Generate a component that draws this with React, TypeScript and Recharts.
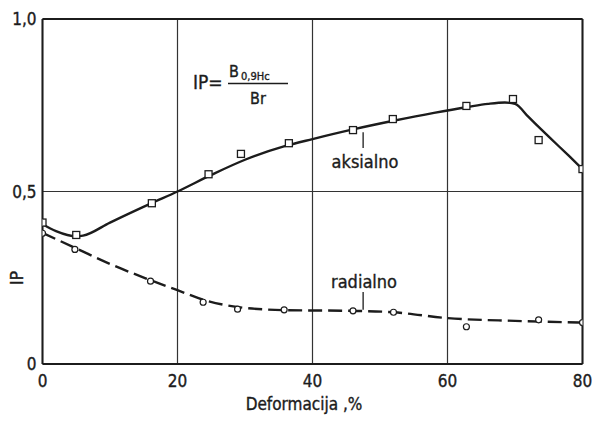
import React from 'react';
import {
  ComposedChart,
  Line,
  Scatter,
  XAxis,
  YAxis,
  CartesianGrid,
  ReferenceLine,
  Customized,
} from 'recharts';

// ---- data ----
const xTicks = [0, 20, 40, 60, 80];
const yTicks = [0, 0.5, 1];
const yTickLabels: Record<string, string> = { '0': '0', '0.5': '0,5', '1': '1,0' };

// fitted curve (solid, "aksialno")
const axialCurveX = [0, 2, 5, 6, 10, 16, 20, 25, 30, 36, 40, 46, 52, 58, 63, 66, 68.5, 70, 72, 75, 78, 80];
const axialCurveY = [0.405, 0.385, 0.37, 0.372, 0.41, 0.465, 0.5, 0.548, 0.592, 0.632, 0.652, 0.68, 0.705, 0.728, 0.745, 0.754, 0.758, 0.754, 0.716, 0.659, 0.603, 0.565];

// measured points (squares, "aksialno")
const axialPtsX = [0, 5, 16.2, 24.6, 29.4, 36.5, 46, 51.9, 62.8, 69.7, 73.5, 80];
const axialPtsY = [0.41, 0.374, 0.466, 0.55, 0.609, 0.64, 0.678, 0.71, 0.748, 0.768, 0.649, 0.565];

// fitted curve (dashed, "radialno")
const radialCurveX = [0, 5, 10, 16, 20, 24, 29, 36, 46, 52, 60, 70, 80];
const radialCurveY = [0.38, 0.335, 0.29, 0.243, 0.214, 0.185, 0.165, 0.156, 0.154, 0.15, 0.133, 0.125, 0.12];

// measured points (circles, "radialno")
const radialPtsX = [0, 4.8, 16, 23.8, 28.9, 35.8, 46, 52, 62.8, 73.5, 80];
const radialPtsY = [0.379, 0.332, 0.24, 0.179, 0.159, 0.157, 0.154, 0.15, 0.108, 0.128, 0.12];

const zip = (xs: number[], ys: number[]) => xs.map((x, i) => ({ x, y: ys[i] }));
const axialCurve = zip(axialCurveX, axialCurveY);
const axialPts = zip(axialPtsX, axialPtsY);
const radialCurve = zip(radialCurveX, radialCurveY);
const radialPts = zip(radialPtsX, radialPtsY);

const FONT = '"DejaVu Sans Condensed", "Liberation Sans Narrow", "DejaVu Sans", sans-serif';
const INK = '#1c1c1c';

const SquareDot = (p: any) => (
  <rect x={p.cx - 3.5} y={p.cy - 3.5} width={7} height={7} fill="#fff" stroke={INK} strokeWidth={1.3} />
);
const CircleDot = (p: any) => (
  <circle cx={p.cx} cy={p.cy} r={3} fill="#fff" stroke={INK} strokeWidth={1.2} />
);

const Texts = () => (
  <g fontFamily={FONT} fill={INK} stroke={INK} strokeWidth={0.35}>
    {/* formula */}
    <text x={193} y={89} fontSize={19}>IP=</text>
    <text x={229} y={77} fontSize={16}>B</text>
    <text x={241} y={80} fontSize={11}>0,9Hc</text>
    <line x1={228} x2={288} y1={83.5} y2={83.5} stroke={INK} strokeWidth={1.5} />
    <text x={258} y={104} fontSize={16} textAnchor="middle">Br</text>
    {/* curve labels */}
    <text x={365} y={168} fontSize={18} textAnchor="middle">aksialno</text>
    <text x={364} y={288} fontSize={18} textAnchor="middle">radialno</text>
    {/* axis titles */}
    <text x={304} y={410} fontSize={17} textAnchor="middle">Deformacija ,%</text>
    <text x={23} y={278} fontSize={17} textAnchor="middle" transform="rotate(-90 23 278)">IP</text>
  </g>
);

export default function App() {
  return (
    <div style={{ position: 'absolute', left: 0, top: 0, background: '#fff' }}>
      <ComposedChart
        width={596}
        height={421}
        margin={{ top: 19, right: 13.5, left: 0, bottom: 0 }}
      >
        <CartesianGrid stroke="#333" strokeWidth={1.2} horizontalValues={yTicks} verticalValues={xTicks} />
        <XAxis
          dataKey="x"
          type="number"
          domain={[0, 80]}
          ticks={xTicks}
          height={57}
          tickLine={false}
          tickSize={0}
          tickMargin={11}
          axisLine={{ stroke: INK, strokeWidth: 2 }}
          tick={{ fill: INK, stroke: INK, strokeWidth: 0.35, fontSize: 17, fontFamily: FONT }}
          allowDataOverflow
        />
        <YAxis
          dataKey="y"
          type="number"
          domain={[0, 1]}
          ticks={yTicks}
          width={42.5}
          tickLine={false}
          tickSize={0}
          tickMargin={6}
          axisLine={{ stroke: INK, strokeWidth: 2 }}
          tick={{ fill: INK, stroke: INK, strokeWidth: 0.35, fontSize: 17, fontFamily: FONT }}
          tickFormatter={(v: number) => yTickLabels[String(v)] ?? String(v)}
          allowDataOverflow
        />
        <ReferenceLine y={1} stroke={INK} strokeWidth={2} />
        <ReferenceLine x={80} stroke={INK} strokeWidth={2} />
        <ReferenceLine segment={[{ x: 47.5, y: 0.672 }, { x: 47.5, y: 0.626 }]} stroke={INK} strokeWidth={1.3} />
        <ReferenceLine segment={[{ x: 47.5, y: 0.209 }, { x: 47.5, y: 0.157 }]} stroke={INK} strokeWidth={1.3} />
        <Line
          data={axialCurve}
          dataKey="y"
          type="monotone"
          dot={false}
          stroke={INK}
          strokeWidth={2.4}
          isAnimationActive={false}
        />
        <Line
          data={radialCurve}
          dataKey="y"
          type="monotone"
          dot={false}
          stroke={INK}
          strokeWidth={2.4}
          strokeDasharray="14 6"
          isAnimationActive={false}
        />
        <Scatter data={axialPts} dataKey="y" shape={SquareDot} isAnimationActive={false} />
        <Scatter data={radialPts} dataKey="y" shape={CircleDot} isAnimationActive={false} />
        <Customized component={Texts} />
      </ComposedChart>
    </div>
  );
}
